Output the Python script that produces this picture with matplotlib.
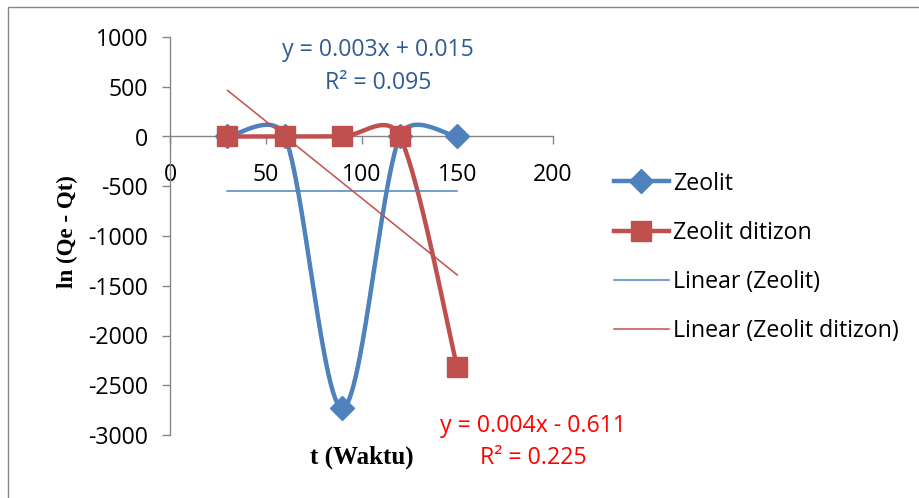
import numpy as np
import matplotlib
matplotlib.use("Agg")
import matplotlib.pyplot as plt
from matplotlib.lines import Line2D
from matplotlib.patches import Rectangle

# ---------------- data ----------------
t = [30, 60, 90, 120, 150]
zeolit = [0, 0, -2730, 0, 0]
zeolit_ditizon = [0, 0, 0, 0, -2320]
x_ticks = [0, 50, 100, 150, 200]
y_ticks = [-3000, -2500, -2000, -1500, -1000, -500, 0, 500, 1000]
series_labels = ["Zeolit", "Zeolit ditizon", "Linear (Zeolit)", "Linear (Zeolit ditizon)"]
eq_zeolit = ["y = 0.003x + 0.015", "R² = 0.095"]
eq_ditizon = ["y = 0.004x - 0.611", "R² = 0.225"]
x_title = "t (Waktu)"
y_title = "ln (Qe - Qt)"

BLUE = "#4F81BD"
RED = "#C0504D"
AXIS = "#868686"
SANS = ["Open Sans", "DejaVu Sans"]
SERIF = ["Liberation Serif", "DejaVu Serif"]
FS = 16.7

W, H = 919, 498
plt.rcParams["axes.unicode_minus"] = False
plt.rcParams["font.family"] = SANS
fig = plt.figure(figsize=(W / 100, H / 100), dpi=100)

ax = fig.add_axes([170 / W, (H - 435) / H, 383 / W, 398 / H])
ax.set_xlim(0, 200)
ax.set_ylim(-3000, 1000)
ax.patch.set_alpha(0)


def excel_smooth(ax, xs, ys, n=80):
    P = ax.transData.transform(np.column_stack([xs, ys]).astype(float))
    m = len(P)
    out = [P[0]]
    for i in range(m - 1):
        p0 = P[i - 1] if i > 0 else P[i]
        p1 = P[i]
        p2 = P[i + 1]
        p3 = P[i + 2] if i + 2 < m else P[i + 1]
        d12 = np.linalg.norm(p2 - p1)
        v1 = p2 - p0
        d = np.linalg.norm(v1)
        c1 = p1 + (v1 / d * min(d / 6, d12 / 2) if d > 0 else 0)
        v2 = p3 - p1
        d = np.linalg.norm(v2)
        c2 = p2 - (v2 / d * min(d / 6, d12 / 2) if d > 0 else 0)
        tt = np.linspace(0, 1, n)[1:, None]
        B = ((1 - tt) ** 3) * p1 + 3 * ((1 - tt) ** 2) * tt * c1 + 3 * (1 - tt) * tt ** 2 * c2 + tt ** 3 * p2
        out.extend(B)
    return ax.transData.inverted().transform(np.array(out))


# series
sb = excel_smooth(ax, t, zeolit)
ax.plot(sb[:, 0], sb[:, 1], color=BLUE, lw=3.2, solid_capstyle="round", zorder=3)
ax.plot(t, zeolit, ls="none", marker="D", ms=12, color=BLUE, zorder=3)
sr = excel_smooth(ax, t, zeolit_ditizon)
ax.plot(sr[:, 0], sr[:, 1], color=RED, lw=3.2, solid_capstyle="round", zorder=4)
ax.plot(t, zeolit_ditizon, ls="none", marker="s", ms=14, color=RED, zorder=4)

# linear trendlines
tx = np.array([t[0], t[-1]], dtype=float)
for ys, col in ((zeolit, BLUE), (zeolit_ditizon, RED)):
    k, b = np.polyfit(t, ys, 1)
    ax.plot(tx, k * tx + b, color=col, lw=1.1, zorder=5)

# axes styling
for s in ("top", "right"):
    ax.spines[s].set_visible(False)
ax.spines["bottom"].set_position(("data", 0))
for s in ("left", "bottom"):
    ax.spines[s].set_color(AXIS)
    ax.spines[s].set_linewidth(1.0)
ax.set_xticks(x_ticks)
ax.set_yticks(y_ticks)
ax.tick_params(axis="both", direction="out", length=5.8, width=1.0, color=AXIS,
               labelsize=FS, labelcolor="black")
ax.tick_params(axis="x", pad=13)
ax.tick_params(axis="y", pad=10)
for lab in ax.get_xticklabels() + ax.get_yticklabels():
    lab.set_fontfamily(SANS)

# legend
handles = [
    Line2D([], [], color=BLUE, lw=3.2, marker="D", ms=12),
    Line2D([], [], color=RED, lw=3.2, marker="s", ms=14),
    Line2D([], [], color=BLUE, lw=1.1),
    Line2D([], [], color=RED, lw=1.1),
]
fig.legend(handles, series_labels, loc="center left",
           bbox_to_anchor=(614 / W, 1 - 257.5 / H), frameon=False,
           prop={"family": SANS, "size": FS}, handlelength=2.35,
           handletextpad=0.18, labelspacing=1.09, borderpad=0, borderaxespad=0)

# equations
fig.text(378 / W, 1 - 50 / H, eq_zeolit[0], color="#2F5C96", fontsize=FS,
         ha="center", va="center", family=SANS)
fig.text(378 / W, 1 - 83 / H, eq_zeolit[1], color="#2F5C96", fontsize=FS,
         ha="center", va="center", family=SANS)
fig.text(533 / W, 1 - 426 / H, eq_ditizon[0], color="#FF0000", fontsize=FS,
         ha="center", va="center", family=SANS)
fig.text(533 / W, 1 - 458 / H, eq_ditizon[1], color="#FF0000", fontsize=FS,
         ha="center", va="center", family=SANS)

# axis titles
fig.text(67 / W, 1 - 232 / H, y_title, rotation=90, fontsize=16.5, fontweight="bold",
         family=SERIF, ha="center", va="center")
fig.text(362 / W, 1 - 457 / H, x_title, fontsize=18, fontweight="bold",
         family=SERIF, ha="center", va="center")

# chart border
fig.patches.append(Rectangle((8 / W, -0.1), 1.2, 1 - 7 / H + 0.1, transform=fig.transFigure,
                             fill=False, edgecolor=AXIS, lw=1.0))

fig.savefig("out.png", dpi=100)
